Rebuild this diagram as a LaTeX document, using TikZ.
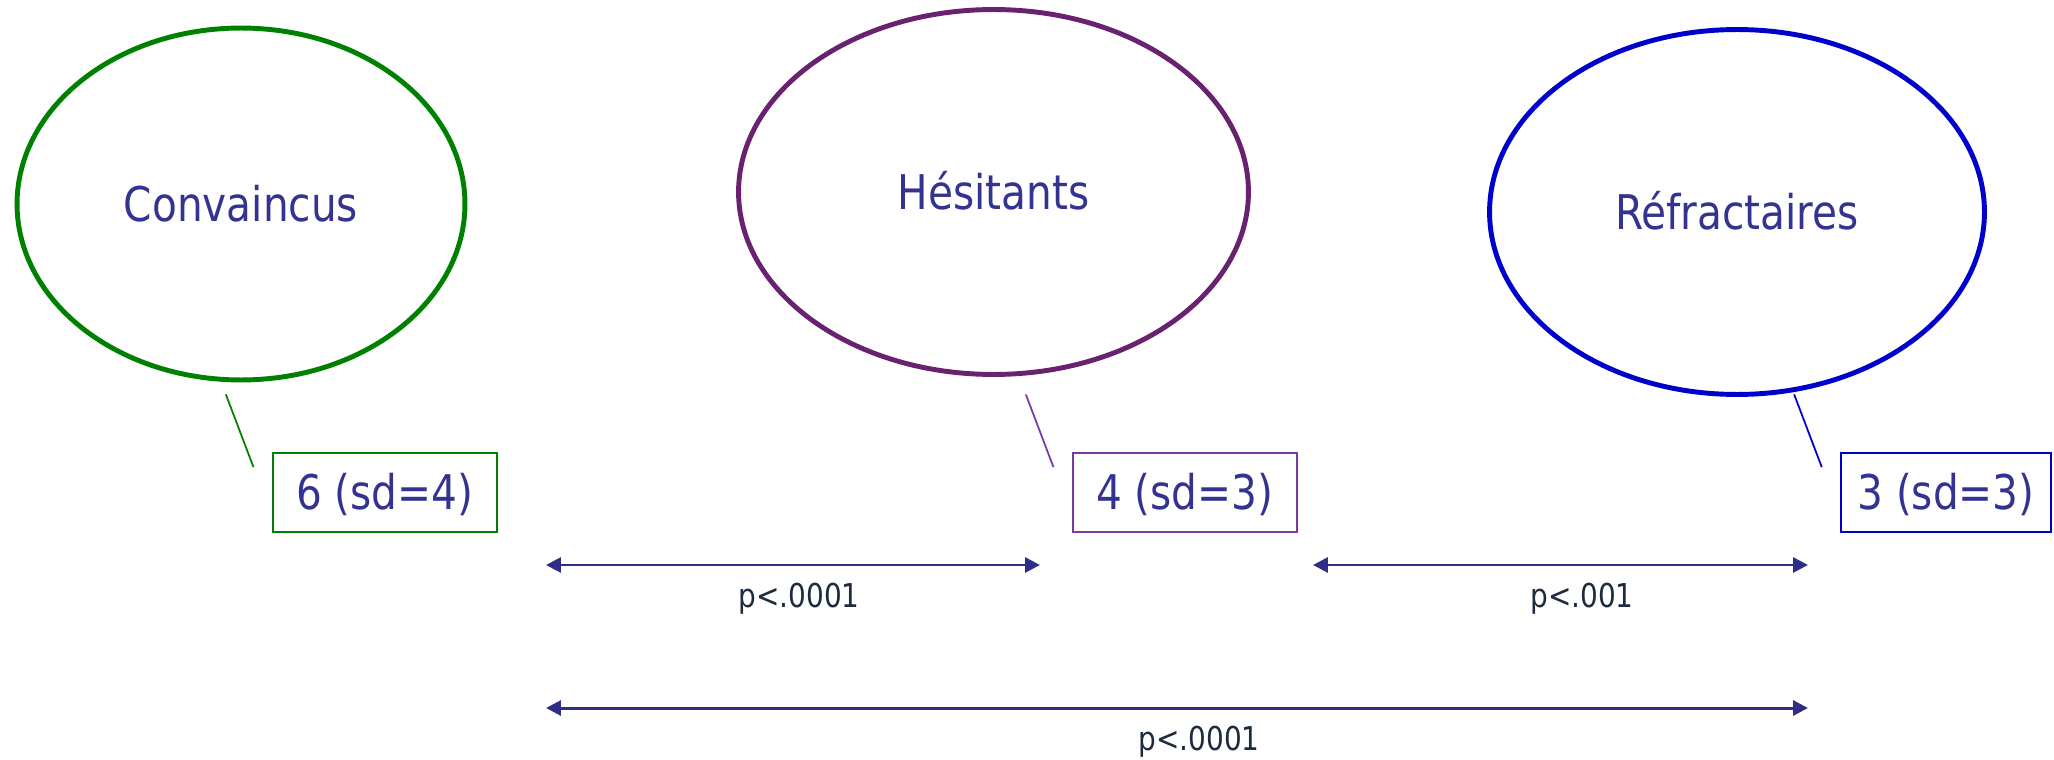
\documentclass[tikz,border=0pt]{standalone}
\usepackage{fontspec}
\setmainfont{DejaVu Sans}[FakeStretch=0.85]
\usetikzlibrary{arrows.meta,shapes.geometric}
\definecolor{txtnavy}{HTML}{333391}
\definecolor{arrnavy}{HTML}{2E2D88}
\definecolor{pdark}{HTML}{1C2B3E}
\definecolor{cgreen}{HTML}{008000}
\definecolor{cplum}{HTML}{68226F}
\definecolor{cviolet}{HTML}{7A3AA6}
\definecolor{cblue}{HTML}{0000CC}
\tikzset{
  x=0.02cm, y=-0.02cm,
  grp/.style  ={ellipse, line width=2.8pt, inner sep=0pt, text=txtnavy, font=\fontsize{27.2}{32}\selectfont, text height=19.9pt, text depth=0pt},
  val/.style  ={line width=1pt, inner sep=0pt, minimum height=1.58cm, minimum width=4.48cm, text=txtnavy, font=\fontsize{27.2}{32}\selectfont, text height=19.9pt, text depth=0pt},
  lead/.style ={line width=1pt},
  parr/.style ={{Triangle[length=8.5pt,width=8.5pt]}-{Triangle[length=8.5pt,width=8.5pt]}, line width=1.7pt, arrnavy},
  plbl/.style ={text=pdark, font=\fontsize{18.7}{22}\selectfont, anchor=base},
}
\begin{document}
\begin{tikzpicture}
  \useasboundingbox (0,0) rectangle (2054,760);
  % groups
  \node[grp, draw=cgreen, minimum width=8.96cm, minimum height=7.04cm] (conv) at (241,204) {Convaincus};
  \node[grp, draw=cplum, minimum width=10.2cm, minimum height=7.3cm] (hesit) at (993.5,192) {Hésitants};
  \node[grp, draw=cblue, minimum width=9.9cm, minimum height=7.3cm] (refr) at (1737,212) {Réfractaires};
  % mean scores
  \node[val, draw=cgreen] (vconv) at (384.7,492.4) {6 (sd=4)};
  \node[val, draw=cviolet] (vhesit) at (1184.7,492.5) {4 (sd=3)};
  \node[val, draw=cblue, minimum width=4.2cm] (vrefr) at (1946,492.5) {3 (sd=3)};
  \foreach \b/\c in {vconv/cgreen, vhesit/cviolet, vrefr/cblue} {
    \draw[lead, \c] ([shift={(-46,-57.7)}]\b.north west) -- ([shift={(-18.4,15)}]\b.north west);
  }
  % comparisons
  \coordinate (ch1) at (546,565);
  \coordinate (hh1) at (1040,565);
  \coordinate (hr2) at (1313,565);
  \coordinate (rr2) at (1808,565);
  \coordinate (cr3) at (546,708);
  \coordinate (rr3) at (1808,708);
  \draw[parr] (ch1) -- (hh1);
  \draw[parr] (hr2) -- (rr2);
  \draw[parr] (cr3) -- (rr3);
  \node[plbl] (pch) at (799,607) {p<.0001};
  \node[plbl] (phr) at (1582,607) {p<.001};
  \node[plbl] (pcr) at (1199,750) {p<.0001};
\end{tikzpicture}
\end{document}
